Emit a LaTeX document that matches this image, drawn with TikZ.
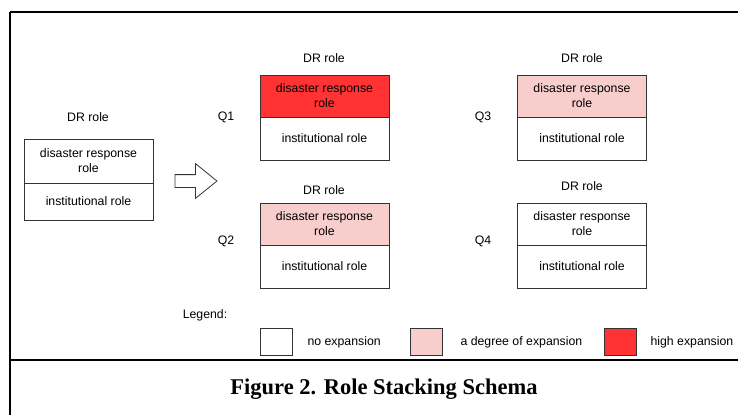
\documentclass[tikz,border=0pt]{standalone}
\usepackage{fontspec}
\setmainfont{Liberation Serif}
\setsansfont{Liberation Sans}
\usetikzlibrary{shapes.arrows}

\definecolor{highred}{HTML}{FF3333}
\definecolor{degpink}{HTML}{F8CECC}
\definecolor{boxline}{HTML}{333333}

\tikzset{
  role/.style={draw=boxline, line width=0.9pt, minimum width=129pt, align=center,
    inner sep=0pt, font=\sffamily\fontsize{12.3}{15}\selectfont},
  toprole/.style={role, minimum height=42pt},
  botrole/.style={role, minimum height=43pt},
  lbl/.style={font=\sffamily\fontsize{12.3}{15}\selectfont},
  key/.style={draw=boxline, line width=0.8pt, minimum width=32pt, minimum height=27pt, inner sep=0pt},
}

\begin{document}
\begin{tikzpicture}[x=1pt, y=-1pt]
\useasboundingbox (0,0) rectangle (738,415);

% frame
\draw[line width=2pt] (10,12) -- (738,12);
\draw[line width=2pt] (10,12) -- (10,415);
\draw[line width=2pt] (10,360) -- (738,360);

% role before
\node[lbl] (dr0) at (88,117) {DR role};
\node[role, minimum height=44pt] (top0) at (88.5,161) {disaster response\\role};
\node[role, minimum height=37pt] (bot0) at (88.5,201.5) {institutional role};

\node[single arrow, draw=boxline, line width=0.8pt, fill=white,
  minimum height=42pt, minimum width=34pt, single arrow head extend=11pt,
  single arrow tip angle=78, inner sep=0pt] (arr) at (192,181) {\rule{0pt}{12pt}};

% Q1
\node[lbl] (dr1) at (324,58) {DR role};
\node[lbl] (q1) at (226,117) {Q1};
\node[toprole, fill=highred] (top1) at (324.5,96) {disaster response\\role};
\node[botrole] (bot1) at (324.5,138.5) {institutional role};

% Q3
\node[lbl] (dr3) at (582,58) {DR role};
\node[lbl] (q3) at (483,117) {Q3};
\node[toprole, fill=degpink] (top3) at (582,96) {disaster response\\role};
\node[botrole] (bot3) at (582,138.5) {institutional role};

% Q2
\node[lbl] (dr2) at (324,190) {DR role};
\node[lbl] (q2) at (226,241) {Q2};
\node[toprole, fill=degpink] (top2) at (324.5,224) {disaster response\\role};
\node[botrole] (bot2) at (324.5,266.5) {institutional role};

% Q4
\node[lbl] (dr4) at (582,186) {DR role};
\node[lbl] (q4) at (483,241) {Q4};
\node[toprole] (top4) at (582,224) {disaster response\\role};
\node[botrole] (bot4) at (582,266.5) {institutional role};

% legend
\node[lbl] (leg) at (205,315) {Legend:};
\node[key] (knone) at (276.5,341.5) {};
\node[lbl, anchor=west] (tnone) at (304,342) {no expansion};
\node[key, fill=degpink] (kdeg) at (426,341.5) {};
\node[lbl, anchor=west] (tdeg) at (457,342) {a degree of expansion};
\node[key, fill=highred] (khigh) at (620,341.5) {};
\node[lbl, anchor=west] (thigh) at (647,342) {high expansion};

% caption
\node[font=\bfseries\fontsize{22.5}{26}\selectfont] (cap) at (384,389) {Figure 2. Role Stacking Schema};

\end{tikzpicture}
\end{document}
